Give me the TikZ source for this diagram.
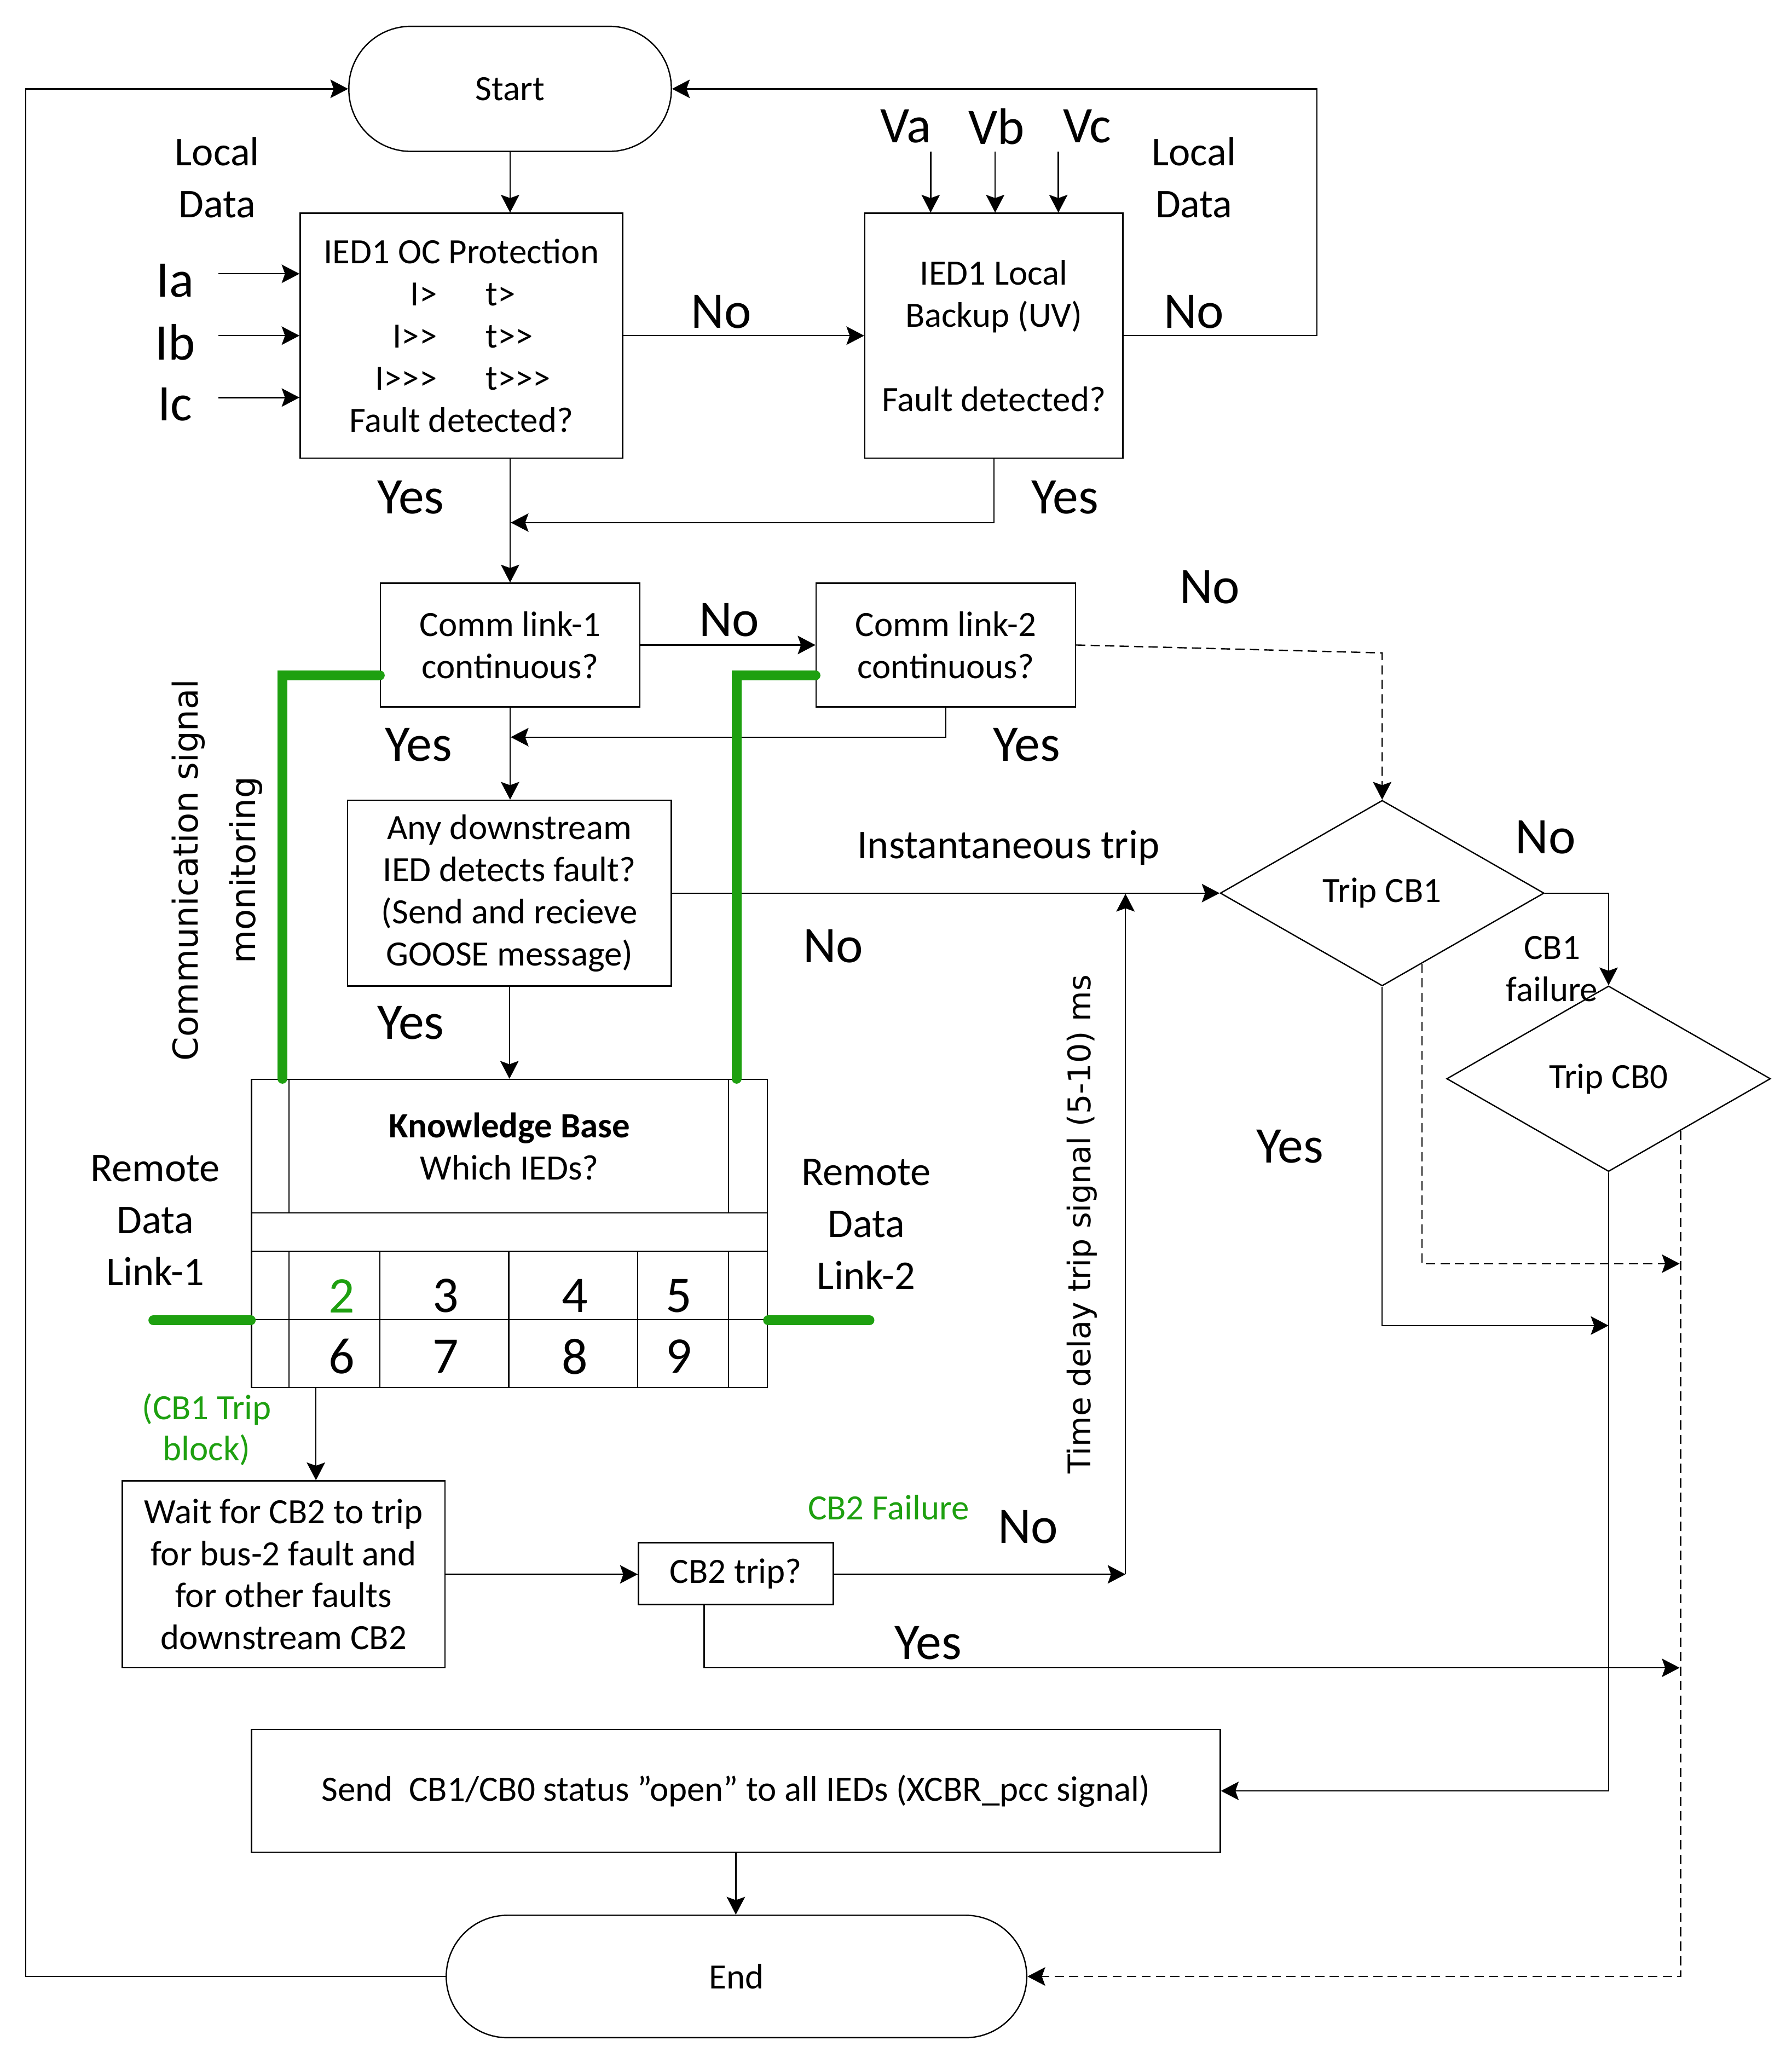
\documentclass[tikz,border=0pt]{standalone}
\usepackage{fontspec}
\setmainfont{Carlito}
\newfontfamily\djv{DejaVu Sans}
\usetikzlibrary{arrows.meta,shapes.geometric,calc}
\definecolor{grn}{RGB}{30,160,16}
\newcommand\szbox{\fontsize{27}{32}\selectfont}
\newcommand\szbig{\fontsize{39}{44}\selectfont}
\newcommand\szmid{\fontsize{31}{39.5}\selectfont}
\begin{document}
\begin{tikzpicture}[x=1pt,y=-1pt,
  line width=1pt,
  >={Stealth[length=13.5pt,width=14pt,inset=2.5pt]},
  box/.style={draw,rectangle,inner sep=0pt,align=center,font=\szbox},
  term/.style={draw,rectangle,inner sep=0pt,font=\szbox},
  dia/.style={draw,diamond,aspect=1.745,inner sep=0pt,minimum width=246pt,minimum height=141pt,font=\szbox},
  lbl/.style={inner sep=0pt,align=center,font=\szbig},
  mlbl/.style={inner sep=0pt,align=center,font=\szmid},
  slbl/.style={inner sep=0pt,align=center,font=\szbox},
  dsh/.style={dashed,dash pattern=on 7pt off 4pt},
  gline/.style={grn,line width=7.5pt,line cap=round},
]
\path[use as bounding box] (0,0) rectangle (1361,1568);

% ---------- main nodes ----------
\node[term,rounded corners=47pt,minimum width=245pt,minimum height=95pt] (start) at (387.5,67.5) {Start};
\node[box,minimum width=245pt,minimum height=186pt] (oc) at (350.5,255)
  {IED1 OC Protection\\
   \makebox[60pt][r]{I>}\hspace{37pt}\makebox[60pt][l]{t>}\\
   \makebox[60pt][r]{I>{}>}\hspace{37pt}\makebox[60pt][l]{t>{}>}\\
   \makebox[60pt][r]{I>{}>{}>}\hspace{37pt}\makebox[60pt][l]{t>{}>{}>}\\
   Fault detected?};
\node[box,minimum width=196pt,minimum height=186pt] (bk) at (755,255)
  {IED1 Local\\Backup (UV)\\[32pt]Fault detected?};
\node[box,minimum width=197pt,minimum height=94pt] (c1) at (387.5,490) {Comm link-1\\continuous?};
\node[box,minimum width=197pt,minimum height=94pt] (c2) at (718.5,490) {Comm link-2\\continuous?};
\node[box,minimum width=246pt,minimum height=141pt] (ad) at (387,678.5)
  {Any downstream\\IED detects fault?\\(Send and recieve\\GOOSE message)};
\node[box,minimum width=392pt,minimum height=234pt] (kb) at (387,937) {};
\node[slbl] (kbt) at (387,871) {\textbf{Knowledge Base}\\Which IEDs?};
\node[box,minimum width=245pt,minimum height=142pt] (wt) at (215.5,1196)
  {Wait for CB2 to trip\\for bus-2 fault and\\for other faults\\downstream CB2};
\node[box,minimum width=148pt,minimum height=47pt] (cb2) at (559,1195.5) {CB2 trip?};
\node[dia] (cb1) at (1050,678.5) {Trip CB1};
\node[dia] (cb0) at (1222,819.5) {Trip CB0};
\node[box,minimum width=736pt,minimum height=93pt] (send) at (559,1360.5)
  {Send~ CB1/CB0 status ”open” to all IEDs (XCBR\_pcc signal)};
\node[term,rounded corners=46.5pt,minimum width=441pt,minimum height=93pt] (end) at (559.5,1501.5) {End};

% ---------- knowledge base grid ----------
\begin{scope}[shift={(kb.north west)}]
  \draw (29,0) -- (29,102) (363,0) -- (363,102);
  \draw (0,102) -- (392,102) (0,131) -- (392,131) (0,183) -- (392,183);
  \foreach \xx in {29,98,196,294,363} \draw (\xx,131) -- (\xx,234);
  \node[lbl,text=grn] (n2) at (69,165) {2};
  \node[lbl] (n3) at (148,165) {3};
  \node[lbl] (n4) at (246,165) {4};
  \node[lbl] (n5) at (325,165) {5};
  \node[lbl] (n6) at (69,211) {6};
  \node[lbl] (n7) at (148,211) {7};
  \node[lbl] (n8) at (246,211) {8};
  \node[lbl] (n9) at (325,211) {9};
\end{scope}

% ---------- labels ----------
\node[mlbl] (ld1) at (165,135) {Local\\Data};
\node[mlbl] (ld2) at (907,135) {Local\\Data};
\node[lbl] (ia) at (133,213) {Ia};
\node[lbl] (ib) at (133,260) {Ib};
\node[lbl] (ic) at (133,307) {Ic};
\node[lbl] (va) at (688,96) {Va};
\node[lbl] (vb) at (757,96) {Vb};
\node[lbl] (vc) at (826,96) {Vc};
\node[lbl] (no1) at (548,237) {No};
\node[lbl] (no2) at (907,237) {No};
\node[lbl] (yes1) at (312,378) {Yes};
\node[lbl] (yes2) at (809,378) {Yes};
\node[lbl] (no3) at (554,471) {No};
\node[lbl] (no4) at (919,446) {No};
\node[lbl] (yes3) at (318,566) {Yes};
\node[lbl] (yes4) at (780,566) {Yes};
\node[inner sep=0pt,font=\fontsize{31}{36}\selectfont] (inst) at (766,644) {Instantaneous trip};
\node[lbl] (no5) at (633,719) {No};
\node[lbl] (yes5) at (312,777) {Yes};
\node[lbl] (no6) at (1174,636) {No};
\node[slbl] (cbf) at (1179,736) {CB1\\failure};
\node[lbl] (yes6) at (980,871) {Yes};
\node[mlbl] (rd1) at (118,927) {Remote\\Data\\Link-1};
\node[mlbl] (rd2) at (658,930) {Remote\\Data\\Link-2};
\node[slbl,text=grn,font=\fontsize{27}{31}\selectfont] (blk) at (157,1086) {(CB1 Trip\\block)};
\node[slbl,text=grn] (cbfl) at (675,1145) {CB2 Failure};
\node[lbl] (no7) at (781,1160) {No};
\node[lbl] (yes7) at (705,1248) {Yes};
\node[inner sep=0pt,align=center,rotate=90,font=\djv\fontsize{26}{44}\selectfont] (csm) at (165,661) {Communication signal\\monitoring};
\node[inner sep=0pt,rotate=90,font=\djv\fontsize{23.7}{28}\selectfont] (tdl) at (822,930) {Time delay trip signal (5-10) ms};

% ---------- coordinates ----------
\coordinate (ia0) at (166,208);
\coordinate (ib0) at (166,255);
\coordinate (ic0) at (166,302);
\coordinate (va0) at (707,115);
\coordinate (vb0) at (756,115);
\coordinate (vc0) at (804,115);
\coordinate (j1) at (388,397);
\coordinate (j2) at (388,560);
\coordinate (d1) at (1050,496);
\coordinate (td) at (855,1196);
\coordinate (td2) at (855,679);
\coordinate (r1) at (1276,960);
\coordinate (r2) at (1222,1007);
\coordinate (r3) at (1276,1267);

% ---------- connectors ----------
\draw[->] (start.south) -- (start.south |- oc.north);
\draw[->] (ia0) -- (ia0 -| oc.west);
\draw[->] (ib0) -- (ib0 -| oc.west);
\draw[->] (ic0) -- (ic0 -| oc.west);
\draw[->] (va0) -- (va0 |- bk.north);
\draw[->] (vb0) -- (vb0 |- bk.north);
\draw[->] (vc0) -- (vc0 |- bk.north);
\draw[->] (oc.east) -- (bk.west);
\draw[->] (bk.east) -- ++(147,0) |- (start.east);
\draw[->] (c1.north |- oc.south) -- (c1.north);
\draw[->] (bk.south) |- (j1);
\draw[->] (c1.east) -- (c2.west);
\draw[dsh,->] (c2.east) -- (d1) -- (cb1.north);
\draw[->] (c1.south) -- (c1.south |- ad.north);
\draw[->] (c2.south) |- (j2);
\draw[->] (ad.east) -- (cb1.west);
\draw[->] (ad.south) -- (ad.south |- kb.north);
\draw[->] ([xshift=24.5pt]wt.north |- kb.south) -- ([xshift=24.5pt]wt.north);
\draw[->] (wt.east) -- (wt.east -| cb2.west);
\draw[->] (cb2.east |- td) -- (td);
\draw[->] (td) -- (td2);
\draw[->] ([xshift=-24pt]cb2.south) |- (r3);
\draw[->] (cb1.east) -| (cb0.north);
\draw[->] (cb1.south) |- (r2);
\draw[dsh,->] ($(cb1.south)!0.244!(cb1.east)$) |- (r1);
\draw[->] (cb0.south) |- (send.east);
\draw[dsh,->] ($(cb0.south)!0.443!(cb0.east)$) |- (end.east);
\draw[->] (send.south) -- (send.south |- end.north);
\draw[->] (end.west) -- ++(-319,0) |- (start.west);

% ---------- green monitoring lines ----------
\draw[gline] ([yshift=-23pt]c1.west) -| ([xshift=24pt]kb.north west);
\draw[gline] ([yshift=-23pt]c2.west) -| ([xshift=-24pt]kb.north east);
\draw[gline] ([yshift=-66pt]kb.west) -- ++(-74,0);
\draw[gline] ([yshift=-66pt]kb.east) -- ++(77,0);
\end{tikzpicture}
\end{document}
